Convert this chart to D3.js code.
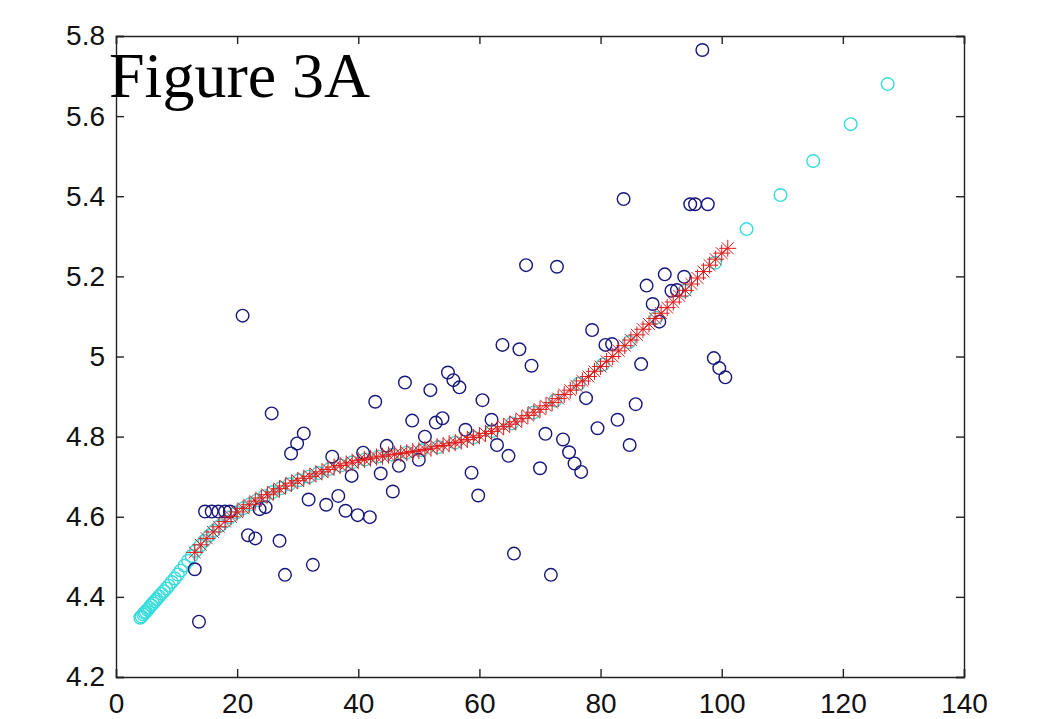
<!DOCTYPE html>
<html>
<head>
<meta charset="utf-8">
<script src="https://cdn.jsdelivr.net/npm/d3@7"></script>
<style>
  body { margin: 0; background: #fff; }
  text { font-family: "Liberation Sans", Arial, sans-serif; }
</style>
</head>
<body>
<script>
// measured data (blue circles)
const dataX = [13.0, 13.7, 14.7, 15.8, 16.9, 18.0, 18.8, 20.9, 21.8, 23.0, 23.7, 24.7, 25.7, 27.0, 27.9,
  28.9, 29.9, 31.0, 31.8, 32.5, 34.7, 35.7, 36.7, 37.9, 38.9, 39.9, 40.8, 41.9, 42.8, 43.7, 44.7,
  45.7, 46.7, 47.7, 48.9, 50.0, 51.0, 51.9, 52.8, 53.9, 54.8, 55.7, 56.7, 57.7, 58.7, 59.8, 60.5,
  62.0, 62.9, 63.8, 64.8, 65.7, 66.6, 67.7, 68.6, 70.0, 70.9, 71.8, 72.8, 73.8, 74.8, 75.7, 76.8,
  77.6, 78.6, 79.5, 80.8, 81.9, 82.8, 83.8, 84.8, 85.8, 86.7, 87.6, 88.6, 89.7, 90.6, 91.7, 92.6,
  93.8, 94.8, 95.6, 96.8, 97.7, 98.7, 99.6, 100.6];
const dataY = [4.469, 4.338, 4.613, 4.613, 4.613, 4.613, 4.613, 5.102, 4.554, 4.546, 4.619, 4.624, 4.858, 4.540, 4.455,
  4.758, 4.783, 4.808, 4.643, 4.480, 4.630, 4.750, 4.652, 4.615, 4.702, 4.604, 4.760, 4.599, 4.887, 4.708, 4.777,
  4.663, 4.727, 4.935, 4.840, 4.742, 4.800, 4.916, 4.835, 4.846, 4.960, 4.941, 4.923, 4.817, 4.710, 4.653, 4.891,
  4.842, 4.779, 5.029, 4.752, 4.508, 5.018, 5.228, 4.977, 4.721, 4.807, 4.455, 5.224, 4.793, 4.761, 4.733, 4.712,
  4.896, 5.066, 4.821, 5.029, 5.031, 4.842, 5.393, 4.779, 4.881, 4.981, 5.177, 5.131, 5.087, 5.205, 5.164, 5.166,
  5.199, 5.380, 5.380, 5.765, 5.380, 4.996, 4.971, 4.948];

// fitted curve (cyan circles), including extrapolated points
const curveX = [4.0, 4.2, 4.5, 4.7, 4.9, 5.2, 5.5, 5.8, 6.1, 6.4, 6.7, 7.1, 7.5, 7.9, 8.3, 8.7, 9.2, 9.7,
  10.2, 10.7, 11.3, 11.9, 12.5, 13.2, 13.9, 14.6, 15.4, 16.2, 17.1, 18.0, 18.9, 19.9, 21.0, 22.1, 23.3,
  24.5, 25.8, 27.2, 28.6, 30.2, 31.8, 33.4, 35.2, 37.1, 39.0, 41.1, 43.3, 45.6, 48.0, 50.5, 53.2, 56.0,
  59.0, 62.1, 65.4, 68.9, 72.5, 76.4, 80.4, 84.7, 89.2, 93.9, 98.9, 104.1, 109.7, 115.1, 121.3, 127.4];
const curveY = [4.348, 4.351, 4.356, 4.360, 4.363, 4.368, 4.373, 4.379, 4.384, 4.389, 4.394, 4.401, 4.408, 4.414, 4.421, 4.428, 4.437, 4.446,
  4.456, 4.466, 4.478, 4.490, 4.502, 4.515, 4.528, 4.540, 4.553, 4.565, 4.577, 4.588, 4.599, 4.611, 4.621, 4.631, 4.641,
  4.651, 4.661, 4.671, 4.681, 4.691, 4.700, 4.709, 4.719, 4.728, 4.736, 4.743, 4.750, 4.755, 4.760, 4.766, 4.774, 4.785,
  4.798, 4.814, 4.833, 4.860, 4.890, 4.932, 4.980, 5.036, 5.097, 5.164, 5.234, 5.318, 5.403, 5.488, 5.580, 5.680];

// fit evaluated on the data range (red asterisks)
const fitX = [13, 14, 15, 16, 17, 18, 19, 20, 21, 22, 23, 24, 25, 26, 27, 28, 29, 30, 31, 32, 33, 34, 35,
  36, 37, 38, 39, 40, 41, 42, 43, 44, 45, 46, 47, 48, 49, 50, 51, 52, 53, 54, 55, 56, 57, 58, 59, 60,
  61, 62, 63, 64, 65, 66, 67, 68, 69, 70, 71, 72, 73, 74, 75, 76, 77, 78, 79, 80, 81, 82, 83, 84, 85,
  86, 87, 88, 89, 90, 91, 92, 93, 94, 95, 96, 97, 98, 99, 100, 101];
const fitY = [4.511, 4.530, 4.546, 4.562, 4.575, 4.588, 4.600, 4.612, 4.621, 4.630, 4.639, 4.647, 4.655, 4.662, 4.670,
  4.677, 4.684, 4.690, 4.696, 4.701, 4.707, 4.712, 4.718, 4.724, 4.728, 4.732, 4.736, 4.740, 4.743, 4.746,
  4.749, 4.751, 4.754, 4.756, 4.758, 4.760, 4.763, 4.765, 4.768, 4.771, 4.775, 4.778, 4.782, 4.785, 4.789,
  4.793, 4.798, 4.802, 4.808, 4.813, 4.819, 4.825, 4.831, 4.837, 4.845, 4.853, 4.861, 4.868, 4.877, 4.885,
  4.895, 4.905, 4.916, 4.927, 4.939, 4.950, 4.963, 4.975, 4.988, 5.000, 5.014, 5.027, 5.041, 5.054, 5.068,
  5.081, 5.095, 5.108, 5.122, 5.136, 5.151, 5.165, 5.181, 5.196, 5.212, 5.228, 5.243, 5.258, 5.270];

const xTicks = [0, 20, 40, 60, 80, 100, 120, 140];
const yTicks = [4.2, 4.4, 4.6, 4.8, 5, 5.2, 5.4, 5.6, 5.8];

const width = 1049, height = 719;
const plotL = 116, plotR = 964, plotT = 36, plotB = 677;

const svg = d3.select("body").append("svg")
  .attr("width", width)
  .attr("height", height);

const x = d3.scaleLinear().domain([0, 140]).range([plotL, plotR]);
const y = d3.scaleLinear().domain([4.2, 5.8]).range([plotB, plotT]);

// axes: MATLAB style box with inward ticks
const tickLen = 8;
svg.append("g").attr("transform", `translate(0,${plotB})`)
  .call(d3.axisBottom(x).tickValues(xTicks).tickSize(-tickLen).tickPadding(16).tickFormat(d3.format("d")));
svg.append("g").attr("transform", `translate(0,${plotT})`)
  .call(d3.axisTop(x).tickValues(xTicks).tickSize(-tickLen).tickFormat(""));
svg.append("g").attr("transform", `translate(${plotL},0)`)
  .call(d3.axisLeft(y).tickValues(yTicks).tickSize(-tickLen).tickPadding(11).tickFormat(d => String(d)));
svg.append("g").attr("transform", `translate(${plotR},0)`)
  .call(d3.axisRight(y).tickValues(yTicks).tickSize(-tickLen).tickFormat(""));

svg.selectAll(".domain, .tick line").attr("stroke", "#222").attr("stroke-width", 1.4);
svg.selectAll(".tick text")
  .attr("fill", "#111")
  .style("font-size", "28px")
  .style("font-family", "'Liberation Sans', Arial, sans-serif");

// cyan circles
svg.append("g").selectAll("circle")
  .data(curveX.map((d, i) => [d, curveY[i]]))
  .enter().append("circle")
  .attr("cx", d => x(d[0]))
  .attr("cy", d => y(d[1]))
  .attr("r", 6.3)
  .attr("fill", "none")
  .attr("stroke", "#36dcdc")
  .attr("stroke-width", 1.4);

// blue circles
svg.append("g").selectAll("circle")
  .data(dataX.map((d, i) => [d, dataY[i]]))
  .enter().append("circle")
  .attr("cx", d => x(d[0]))
  .attr("cy", d => y(d[1]))
  .attr("r", 6.3)
  .attr("fill", "none")
  .attr("stroke", "#16167c")
  .attr("stroke-width", 1.4);

// red asterisks
const s = 8.5;
const star = `M${-s},0H${s}M0,${-s}V${s}M${-s * 0.7},${-s * 0.7}L${s * 0.7},${s * 0.7}M${-s * 0.7},${s * 0.7}L${s * 0.7},${-s * 0.7}`;
svg.append("g").selectAll("path")
  .data(fitX.map((d, i) => [d, fitY[i]]))
  .enter().append("path")
  .attr("transform", d => `translate(${x(d[0])},${y(d[1])})`)
  .attr("d", star)
  .attr("fill", "none")
  .attr("stroke", "#e01a1a")
  .attr("stroke-width", 1);

// title
svg.append("text")
  .attr("x", 109)
  .attr("y", 97)
  .style("font-family", "'Liberation Serif', 'Times New Roman', serif")
  .style("font-size", "64px")
  .attr("fill", "#000")
  .text("Figure 3A");
</script>
</body>
</html>
